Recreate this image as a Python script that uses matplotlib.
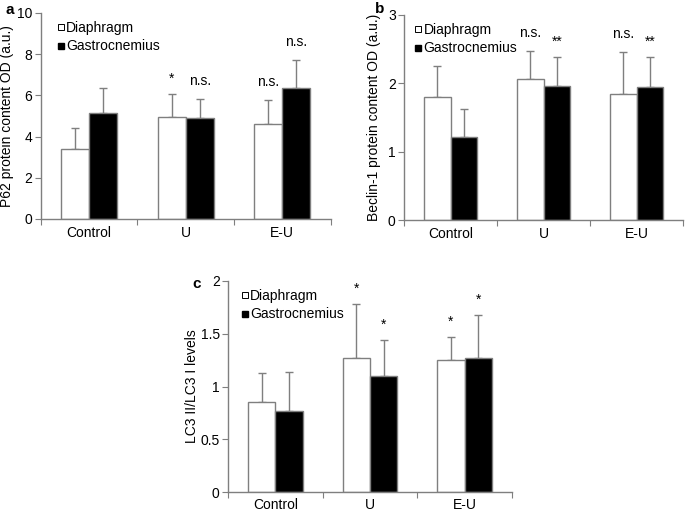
import matplotlib
matplotlib.use("Agg")
import matplotlib.pyplot as plt
import matplotlib.transforms as mtransforms
from matplotlib.lines import Line2D
import numpy as np

plt.rcParams['font.family'] = ['Liberation Sans', 'DejaVu Sans']

groups = ["Control", "U", "E-U"]
series = ["Diaphragm", "Gastrocnemius"]

# Panel a: P62
p62_dia = [3.39, 4.97, 4.61]
p62_dia_err = [1.03, 1.09, 1.15]
p62_gas = [5.16, 4.92, 6.34]
p62_gas_err = [1.21, 0.89, 1.40]
p62_dia_ann = ["", "*", "n.s."]
p62_gas_ann = ["", "n.s.", "n.s."]

# Panel b: Beclin-1
bec_dia = [1.80, 2.07, 1.84]
bec_dia_err = [0.46, 0.41, 0.62]
bec_gas = [1.22, 1.96, 1.95]
bec_gas_err = [0.41, 0.42, 0.44]
bec_dia_ann = ["", "n.s.", "n.s."]
bec_gas_ann = ["", "**", "**"]

# Panel c: LC3 II/LC3 I
lc3_dia = [0.85, 1.27, 1.25]
lc3_dia_err = [0.28, 0.51, 0.22]
lc3_gas = [0.77, 1.10, 1.27]
lc3_gas_err = [0.37, 0.34, 0.41]
lc3_dia_ann = ["", "*", "*"]
lc3_gas_ann = ["", "*", "*"]

GRAY = "#7f7f7f"
FS = 10

fig = plt.figure(figsize=(6.85, 5.12), dpi=100)


def panel(rect, dia, dia_err, gas, gas_err, dia_ann, gas_ann, ylim, yticks,
          yticklabels, ylabel, letter, letter_xy, ylabel_x, leg_x, xpad):
    ax = fig.add_axes(rect)
    x = np.arange(len(groups)) + 0.5
    w = 0.29
    ax.bar(x - w / 2, dia, w, color="white", edgecolor=GRAY, linewidth=1.0,
           zorder=2)
    ax.bar(x + w / 2, gas, w, color="black", edgecolor=GRAY, linewidth=1.0,
           zorder=2)
    ax.errorbar(x - w / 2, dia, yerr=[np.zeros(len(dia)), dia_err], fmt="none",
                ecolor=GRAY, elinewidth=1.0, capsize=3, capthick=1.0, zorder=1)
    ax.errorbar(x + w / 2, gas, yerr=[np.zeros(len(gas)), gas_err], fmt="none",
                ecolor=GRAY, elinewidth=1.0, capsize=3, capthick=1.0, zorder=1)
    for xs, vals, errs, anns in ((x - w / 2, dia, dia_err, dia_ann),
                                 (x + w / 2, gas, gas_err, gas_ann)):
        for xi, v, e, t in zip(xs, vals, errs, anns):
            if t:
                off = 8 if "*" in t else 10
                ax.annotate(t, (xi, v + e), xytext=(0, off),
                            textcoords="offset points",
                            ha="center", va="baseline", fontsize=FS)
    ax.set_xlim(0, 3)
    ax.set_ylim(*ylim)
    ax.set_yticks(yticks)
    ax.set_yticklabels(yticklabels, fontsize=FS)
    ax.set_xticks([0, 1, 2, 3])
    ax.set_xticklabels([])
    ax.set_xticks(x, minor=True)
    ax.set_xticklabels(groups, minor=True, fontsize=FS)
    ax.tick_params(axis="x", which="minor", length=0, pad=xpad)
    ax.tick_params(axis="x", which="major", length=4, color=GRAY, direction="out")
    ax.tick_params(axis="y", length=4, color=GRAY, direction="out", pad=2)
    for s in ["top", "right"]:
        ax.spines[s].set_visible(False)
    for s in ["left", "bottom"]:
        ax.spines[s].set_color(GRAY)
        ax.spines[s].set_linewidth(1.0)
    ax.set_ylabel(ylabel, fontsize=FS)
    tr = mtransforms.blended_transform_factory(fig.transFigure, ax.transAxes)
    ax.yaxis.set_label_coords(ylabel_x, 0.5, transform=tr)
    handles = [
        Line2D([], [], marker="s", linestyle="none", markersize=4,
               markerfacecolor="white", markeredgecolor="black", markeredgewidth=0.7),
        Line2D([], [], marker="s", linestyle="none", markersize=4,
               markerfacecolor="black", markeredgecolor="black"),
    ]
    ax.legend(handles, series, loc="upper left", frameon=False, fontsize=FS,
              handlelength=0.4, handletextpad=0.2, labelspacing=0.3,
              borderaxespad=0.2, bbox_to_anchor=(leg_x, 1.0))
    fig.text(letter_xy[0], letter_xy[1], letter, fontsize=11, fontweight="bold",
             ha="left", va="center")
    return ax


panel([40.7 / 685, 1 - 219 / 512, 290 / 685, 206 / 512],
      p62_dia, p62_dia_err, p62_gas, p62_gas_err, p62_dia_ann, p62_gas_ann,
      (0, 10), [0, 2, 4, 6, 8, 10], ["0", "2", "4", "6", "8", "10"],
      "P62 protein content OD (a.u.)", "a", (5 / 685, 1 - 10 / 512), 14 / 685,
      0.03, 5)

panel([404 / 685, 1 - 220 / 512, 279 / 685, 205 / 512],
      bec_dia, bec_dia_err, bec_gas, bec_gas_err, bec_dia_ann, bec_gas_ann,
      (0, 3), [0, 1, 2, 3], ["0", "1", "2", "3"],
      "Beclin-1 protein content OD (a.u.)", "b", (375 / 685, 1 - 9 / 512), 381 / 685,
      0.01, 5)

panel([228 / 685, 1 - 492 / 512, 284 / 685, 211 / 512],
      lc3_dia, lc3_dia_err, lc3_gas, lc3_gas_err, lc3_dia_ann, lc3_gas_ann,
      (0, 2), [0, 0.5, 1, 1.5, 2], ["0", "0.5", "1", "1.5", "2"],
      "LC3 II/LC3 I levels", "c", (192 / 685, 1 - 284 / 512), 199 / 685,
      0.02, 4)

fig.savefig("out.png", dpi=100)
